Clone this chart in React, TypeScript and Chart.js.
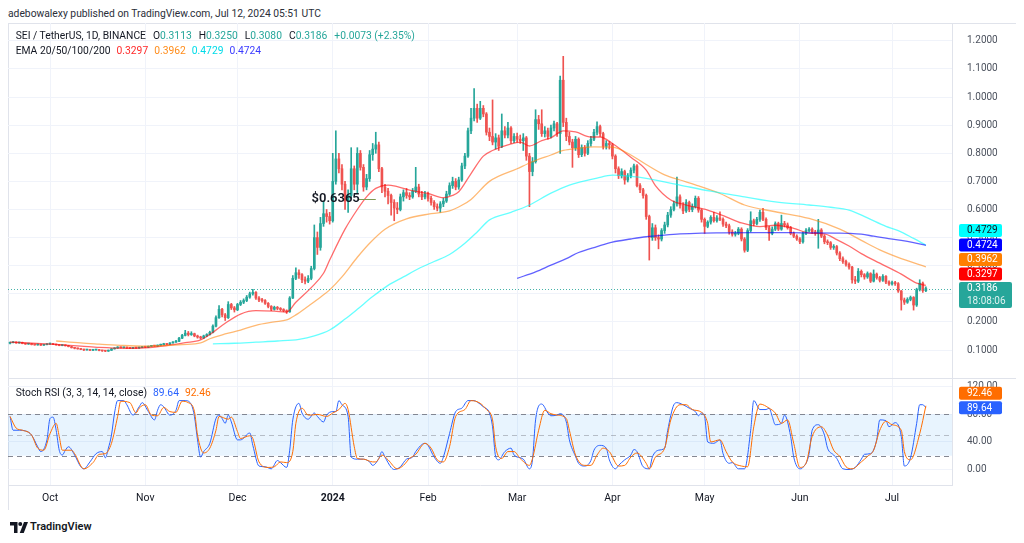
import React, { useEffect, useRef } from "react";
import { Chart, registerables } from "chart.js";

Chart.register(...registerables);

const FONT = "Roboto, 'Open Sans', Arial, sans-serif";
const UP = "#26a69a";
const DOWN = "#ef5350";
const TEXT = "#131722";
const AXIS_TEXT = "#4c525e";
const GRID = "#f0f3fa";
const BORDER = "#e0e3eb";

// day index 0 = 1 Oct 2023; first candle = 18 Sep 2023 (day -13)
const FIRST_DAY = -13;
const FIRST_OPEN = 0.124;
const CLOSES = [
  0.126, 0.128, 0.125, 0.127, 0.123, 0.121, 0.122, 0.119, 0.118, 0.120, 0.117, 0.119, 0.121,
  0.123, 0.120, 0.118, 0.116, 0.117, 0.115, 0.112, 0.108, 0.106, 0.104,
  0.102, 0.100, 0.101, 0.099, 0.100, 0.101, 0.098, 0.097, 0.096, 0.099,
  0.104, 0.107, 0.110, 0.108, 0.109, 0.107, 0.106, 0.108, 0.107, 0.109,
  0.111, 0.110, 0.113, 0.115, 0.114, 0.117, 0.119, 0.122, 0.120, 0.125,
  0.128, 0.131, 0.142, 0.152, 0.160, 0.155, 0.158, 0.150, 0.146, 0.143,
  0.150, 0.155, 0.163, 0.185, 0.215, 0.245, 0.225, 0.215, 0.262, 0.250,
  0.243, 0.262, 0.270, 0.276, 0.288, 0.300, 0.305, 0.285, 0.278, 0.276,
  0.266, 0.255, 0.245, 0.252, 0.248, 0.244, 0.240, 0.236, 0.285, 0.355,
  0.375, 0.368, 0.350, 0.345, 0.355, 0.390, 0.500, 0.465, 0.550, 0.585,
  0.575, 0.560, 0.700, 0.780, 0.745, 0.690, 0.630, 0.650, 0.745, 0.690,
  0.800, 0.750, 0.680, 0.710, 0.795, 0.815, 0.830, 0.745, 0.680, 0.665,
  0.650, 0.625, 0.605, 0.600, 0.645, 0.660, 0.650, 0.645, 0.665, 0.680,
  0.655, 0.645, 0.655, 0.640, 0.625, 0.610, 0.605, 0.620, 0.630, 0.655,
  0.685, 0.700, 0.680, 0.705, 0.755, 0.790, 0.880, 0.925, 0.960, 0.925,
  0.960, 0.940, 0.875, 0.860, 0.840, 0.855, 0.825, 0.880, 0.865, 0.890,
  0.845, 0.860, 0.850, 0.845, 0.855, 0.790, 0.735, 0.770, 0.920, 0.905,
  0.870, 0.880, 0.860, 0.890, 0.905, 0.870, 1.060, 0.910, 0.860, 0.840,
  0.820, 0.850, 0.795, 0.820, 0.800, 0.835, 0.850, 0.875, 0.895, 0.870,
  0.825, 0.835, 0.830, 0.790, 0.745, 0.720, 0.735, 0.705, 0.720, 0.740,
  0.755, 0.685, 0.670, 0.650, 0.575, 0.500, 0.535, 0.500, 0.495, 0.525,
  0.545, 0.580, 0.600, 0.620, 0.645, 0.615, 0.595, 0.625, 0.600, 0.610,
  0.640, 0.598, 0.565, 0.540, 0.555, 0.572, 0.560, 0.570, 0.565, 0.548,
  0.542, 0.520, 0.512, 0.515, 0.530, 0.495, 0.455, 0.525, 0.560, 0.550,
  0.565, 0.590, 0.565, 0.535, 0.515, 0.530, 0.550, 0.530, 0.550, 0.545,
  0.535, 0.515, 0.505, 0.495, 0.485, 0.515, 0.525, 0.530, 0.520, 0.515,
  0.527, 0.505, 0.485, 0.482, 0.465, 0.468, 0.445, 0.425, 0.415, 0.405,
  0.395, 0.350, 0.345, 0.380, 0.368, 0.360, 0.372, 0.345, 0.370, 0.358,
  0.348, 0.362, 0.342, 0.335, 0.340, 0.336, 0.310, 0.278, 0.270, 0.280,
  0.287, 0.260, 0.315, 0.338, 0.3113, 0.3186,
];
const HIGHS = [
  0.128, 0.130, 0.129, 0.128, 0.128, 0.124, 0.123, 0.123, 0.120, 0.121, 0.121, 0.120, 0.122,
  0.125, 0.124, 0.121, 0.119, 0.118, 0.118, 0.116, 0.113, 0.109, 0.107,
  0.105, 0.103, 0.102, 0.102, 0.101, 0.102, 0.102, 0.099, 0.098, 0.100,
  0.105, 0.108, 0.112, 0.111, 0.110, 0.110, 0.108, 0.109, 0.109, 0.110,
  0.112, 0.112, 0.114, 0.116, 0.116, 0.118, 0.121, 0.124, 0.123, 0.126,
  0.130, 0.134, 0.145, 0.156, 0.170, 0.166, 0.165, 0.160, 0.153, 0.149,
  0.153, 0.158, 0.167, 0.190, 0.222, 0.258, 0.248, 0.230, 0.272, 0.266,
  0.255, 0.266, 0.276, 0.282, 0.294, 0.306, 0.316, 0.308, 0.290, 0.284,
  0.279, 0.269, 0.258, 0.256, 0.255, 0.251, 0.247, 0.243, 0.290, 0.365,
  0.392, 0.385, 0.372, 0.360, 0.365, 0.398, 0.545, 0.520, 0.572, 0.630,
  0.600, 0.590, 0.800, 0.880, 0.800, 0.760, 0.700, 0.670, 0.820, 0.755,
  0.820, 0.810, 0.760, 0.725, 0.810, 0.835, 0.875, 0.840, 0.750, 0.690,
  0.675, 0.655, 0.635, 0.625, 0.655, 0.670, 0.675, 0.660, 0.675, 0.750,
  0.690, 0.665, 0.665, 0.662, 0.648, 0.632, 0.620, 0.628, 0.640, 0.665,
  0.695, 0.715, 0.710, 0.715, 0.765, 0.800, 0.890, 0.960, 1.030, 0.975,
  0.985, 0.970, 0.945, 0.890, 0.990, 0.870, 0.865, 0.940, 0.895, 0.910,
  0.895, 0.870, 0.872, 0.865, 0.870, 0.860, 0.800, 0.785, 0.955, 0.935,
  0.955, 0.895, 0.890, 0.900, 0.915, 0.910, 1.075, 1.145, 0.925, 0.875,
  0.850, 0.860, 0.855, 0.830, 0.828, 0.845, 0.860, 0.885, 0.912, 0.900,
  0.875, 0.845, 0.842, 0.835, 0.795, 0.752, 0.745, 0.740, 0.728, 0.748,
  0.762, 0.760, 0.692, 0.675, 0.655, 0.580, 0.550, 0.545, 0.510, 0.532,
  0.555, 0.590, 0.610, 0.630, 0.715, 0.652, 0.625, 0.635, 0.630, 0.620,
  0.648, 0.646, 0.602, 0.570, 0.560, 0.578, 0.590, 0.578, 0.592, 0.570,
  0.555, 0.548, 0.528, 0.522, 0.536, 0.535, 0.500, 0.532, 0.592, 0.566,
  0.572, 0.598, 0.604, 0.570, 0.540, 0.538, 0.556, 0.555, 0.580, 0.558,
  0.552, 0.540, 0.520, 0.510, 0.500, 0.520, 0.532, 0.536, 0.535, 0.526,
  0.565, 0.532, 0.510, 0.492, 0.486, 0.475, 0.472, 0.450, 0.432, 0.420,
  0.410, 0.398, 0.362, 0.390, 0.385, 0.372, 0.378, 0.375, 0.385, 0.374,
  0.362, 0.368, 0.365, 0.346, 0.345, 0.344, 0.340, 0.312, 0.285, 0.286,
  0.292, 0.290, 0.320, 0.350, 0.342, 0.325,
];
const LOWS = [
  0.122, 0.125, 0.124, 0.124, 0.122, 0.120, 0.120, 0.118, 0.117, 0.117, 0.116, 0.116, 0.118,
  0.120, 0.119, 0.117, 0.115, 0.115, 0.114, 0.111, 0.107, 0.104, 0.103,
  0.101, 0.098, 0.099, 0.098, 0.098, 0.099, 0.097, 0.095, 0.094, 0.095,
  0.098, 0.103, 0.106, 0.107, 0.107, 0.106, 0.105, 0.105, 0.106, 0.106,
  0.108, 0.109, 0.109, 0.112, 0.113, 0.113, 0.116, 0.118, 0.119, 0.119,
  0.124, 0.127, 0.130, 0.140, 0.150, 0.150, 0.152, 0.147, 0.142, 0.139,
  0.141, 0.148, 0.153, 0.161, 0.182, 0.212, 0.218, 0.205, 0.212, 0.244,
  0.235, 0.240, 0.258, 0.265, 0.272, 0.284, 0.295, 0.280, 0.272, 0.270,
  0.262, 0.250, 0.240, 0.242, 0.243, 0.240, 0.236, 0.230, 0.234, 0.283,
  0.350, 0.355, 0.340, 0.335, 0.340, 0.350, 0.385, 0.440, 0.455, 0.540,
  0.555, 0.548, 0.555, 0.690, 0.730, 0.670, 0.600, 0.590, 0.640, 0.670,
  0.660, 0.740, 0.665, 0.670, 0.700, 0.775, 0.800, 0.735, 0.660, 0.645,
  0.620, 0.580, 0.560, 0.585, 0.595, 0.630, 0.640, 0.635, 0.640, 0.660,
  0.645, 0.635, 0.638, 0.630, 0.615, 0.600, 0.595, 0.590, 0.610, 0.625,
  0.650, 0.675, 0.670, 0.672, 0.700, 0.745, 0.785, 0.870, 0.915, 0.910,
  0.920, 0.930, 0.865, 0.845, 0.830, 0.815, 0.810, 0.820, 0.855, 0.855,
  0.835, 0.838, 0.840, 0.835, 0.810, 0.775, 0.610, 0.720, 0.765, 0.885,
  0.860, 0.858, 0.850, 0.855, 0.880, 0.860, 0.800, 0.895, 0.845, 0.830,
  0.750, 0.810, 0.785, 0.788, 0.790, 0.795, 0.825, 0.845, 0.865, 0.860,
  0.815, 0.815, 0.815, 0.780, 0.730, 0.710, 0.712, 0.690, 0.698, 0.712,
  0.730, 0.680, 0.660, 0.640, 0.565, 0.420, 0.490, 0.490, 0.460, 0.488,
  0.515, 0.538, 0.572, 0.595, 0.612, 0.605, 0.585, 0.590, 0.592, 0.592,
  0.605, 0.590, 0.555, 0.515, 0.535, 0.548, 0.555, 0.555, 0.560, 0.540,
  0.535, 0.512, 0.505, 0.505, 0.510, 0.488, 0.448, 0.450, 0.520, 0.542,
  0.545, 0.558, 0.560, 0.528, 0.490, 0.510, 0.525, 0.525, 0.526, 0.538,
  0.530, 0.510, 0.500, 0.490, 0.478, 0.480, 0.510, 0.520, 0.515, 0.508,
  0.462, 0.500, 0.478, 0.475, 0.458, 0.458, 0.438, 0.418, 0.408, 0.398,
  0.388, 0.338, 0.336, 0.340, 0.360, 0.352, 0.355, 0.340, 0.342, 0.352,
  0.342, 0.344, 0.336, 0.330, 0.331, 0.330, 0.305, 0.242, 0.262, 0.266,
  0.275, 0.242, 0.255, 0.310, 0.305, 0.308,
];

// EMA lines: [day, value]
const EMA20 = [
  [-13, 0.128], [0, 0.121], [10, 0.114], [16, 0.109], [25, 0.106], [31, 0.108], [38, 0.116], [44, 0.126],
  [49, 0.136], [52, 0.155], [57, 0.195], [62, 0.228], [67, 0.24], [73, 0.238], [77, 0.235], [80, 0.27],
  [85, 0.322], [89, 0.373], [91, 0.42], [96, 0.53], [100, 0.6], [103, 0.645], [106, 0.675], [110, 0.687],
  [113, 0.681], [117, 0.669], [123, 0.657], [128, 0.642], [131, 0.65], [133, 0.663], [137, 0.728], [141, 0.79],
  [144, 0.81], [149, 0.83], [153, 0.84], [156, 0.826], [160, 0.845], [163, 0.855], [167, 0.88], [171, 0.876],
  [176, 0.858], [179, 0.858], [183, 0.835], [189, 0.786], [194, 0.74], [197, 0.685], [202, 0.634], [207, 0.616],
  [214, 0.598], [220, 0.574], [225, 0.552], [231, 0.539], [236, 0.544], [242, 0.533], [247, 0.516], [252, 0.513],
  [256, 0.493], [260, 0.47], [264, 0.443], [270, 0.409], [277, 0.37], [282, 0.338], [285, 0.3297],
];
const EMA50 = [
  [2, 0.132], [10, 0.125], [16, 0.121], [24, 0.116], [31, 0.114], [38, 0.116], [43, 0.119], [49, 0.125],
  [52, 0.14], [57, 0.157], [62, 0.171], [67, 0.188], [73, 0.2], [77, 0.207], [80, 0.225], [84, 0.256],
  [88, 0.288], [91, 0.314], [95, 0.36], [100, 0.43], [104, 0.48], [109, 0.53], [116, 0.567], [124, 0.585],
  [130, 0.595], [134, 0.615], [137, 0.636], [143, 0.7], [152, 0.745], [157, 0.77], [163, 0.794], [167, 0.81],
  [172, 0.818], [177, 0.823], [183, 0.822], [189, 0.794], [194, 0.76], [200, 0.723], [205, 0.705], [210, 0.688],
  [218, 0.657], [226, 0.616], [236, 0.592], [247, 0.568], [257, 0.53], [264, 0.49], [270, 0.456], [277, 0.425],
  [285, 0.3962],
];
const EMA100 = [
  [53, 0.122], [60, 0.124], [67, 0.128], [74, 0.132], [81, 0.138], [86, 0.15], [91, 0.171], [96, 0.21],
  [100, 0.245], [105, 0.29], [110, 0.33], [115, 0.36], [120, 0.39], [125, 0.415], [130, 0.44], [135, 0.48],
  [139, 0.52], [143, 0.563], [150, 0.59], [156, 0.616], [163, 0.658], [169, 0.687], [173, 0.699], [178, 0.712],
  [183, 0.722], [189, 0.718], [194, 0.711], [205, 0.687], [215, 0.665], [226, 0.645], [236, 0.627], [247, 0.616],
  [254, 0.608], [260, 0.598], [266, 0.57], [272, 0.54], [276, 0.525], [281, 0.497], [285, 0.4729],
];
const EMA200 = [
  [152, 0.355], [158, 0.378], [163, 0.402], [168, 0.425], [172, 0.447], [178, 0.468], [183, 0.484], [189, 0.495],
  [194, 0.503], [200, 0.509], [205, 0.513], [212, 0.516], [218, 0.517], [230, 0.518], [245, 0.517], [257, 0.516],
  [260, 0.515], [264, 0.512], [268, 0.505], [272, 0.498], [277, 0.49], [281, 0.482], [285, 0.4724],
];
const EMA_LAST = [0.3297, 0.3962, 0.4729, 0.4724];

const STOCH_K = [
  [-13, 77], [-12, 57], [-10, 57], [-8, 56], [-6, 50], [-4, 33], [-3, 26], [-1, 43], [0, 74], [1, 76], [2, 57],
  [3, 28], [4, 21], [5, 28], [6, 33], [8, 21], [10, 4], [11, 1], [13, 11], [15, 23], [17, 26], [18, 17], [19, 31],
  [20, 50], [21, 82], [22, 100], [24, 100], [25, 94], [27, 79], [29, 91], [30, 97], [32, 84], [34, 72], [35, 86],
  [36, 94], [37, 91], [39, 79], [41, 86], [42, 100], [44, 100], [46, 94], [47, 77], [48, 43], [49, 18], [50, 26],
  [52, 38], [54, 74], [55, 79], [56, 74], [57, 67], [58, 79], [59, 69], [61, 43], [62, 43], [65, 53], [66, 35],
  [68, 5], [70, 4], [72, 1], [74, 13], [75, 10], [77, 3], [78, 28], [79, 72], [81, 96], [82, 82], [84, 73], [86, 82],
  [87, 77], [89, 69], [90, 79], [92, 84], [93, 84], [94, 100], [95, 94], [97, 77], [98, 18], [100, 15], [102, 15],
  [104, 11], [105, 6], [107, 16], [108, 26], [109, 18], [111, 3], [112, 0], [114, 4], [116, 15], [118, 18], [119, 26],
  [122, 38], [123, 35], [125, 18], [127, 9], [128, 18], [130, 52], [132, 84], [134, 89], [136, 100], [138, 100],
  [139, 98], [141, 91], [143, 82], [144, 62], [145, 19], [146, 14], [148, 26], [150, 31], [151, 21], [154, 15],
  [156, 1], [157, 14], [158, 72], [160, 95], [162, 82], [163, 78], [165, 79], [166, 81], [168, 69], [169, 43],
  [171, 19], [172, 9], [174, 5], [176, 13], [177, 28], [179, 35], [181, 31], [182, 14], [184, 1], [185, 6], [187, 14],
  [189, 21], [190, 29], [191, 26], [193, 4], [195, 1], [196, 18], [198, 28], [200, 31], [201, 57], [203, 94],
  [204, 97], [206, 94], [208, 89], [210, 84], [211, 78], [212, 82], [213, 77], [214, 40], [216, 38], [218, 43],
  [219, 23], [221, 9], [222, 10], [224, 1], [226, 1], [228, 57], [229, 100], [231, 87], [233, 87], [234, 89],
  [235, 77], [236, 65], [238, 67], [239, 79], [241, 48], [242, 18], [244, 1], [245, 3], [247, 23], [248, 57],
  [250, 65], [252, 50], [253, 31], [255, 21], [256, 16], [258, 1], [260, 0], [262, 3], [264, 15], [265, 22],
  [267, 23], [269, 43], [270, 72], [272, 71], [273, 62], [275, 68], [277, 48], [278, 5], [280, 17], [282, 67],
  [283, 94], [284, 94], [285, 89.64],
];
const STOCH_D = [
  [-13, 77], [-11, 60], [-9, 57], [-6, 50], [-4, 31], [-2, 28], [0, 52], [2, 67], [3, 48], [4, 28], [7, 28], [8, 23],
  [11, 1], [14, 10], [16, 22], [18, 23], [20, 38], [22, 77], [23, 99], [26, 97], [28, 82], [29, 89], [31, 94],
  [33, 79], [35, 78], [37, 90], [39, 84], [41, 83], [43, 99], [45, 97], [47, 84], [48, 50], [50, 24], [52, 31],
  [54, 57], [55, 77], [58, 73], [59, 76], [61, 55], [62, 45], [65, 49], [66, 45], [68, 11], [71, 3], [73, 4],
  [75, 11], [77, 10], [79, 26], [80, 67], [82, 89], [84, 79], [85, 79], [87, 80], [90, 77], [92, 82], [94, 87],
  [96, 96], [97, 87], [99, 33], [100, 16], [102, 15], [105, 11], [106, 11], [108, 21], [110, 14], [113, 1], [115, 6],
  [117, 16], [119, 22], [122, 38], [124, 31], [126, 14], [128, 11], [130, 33], [132, 77], [135, 87], [137, 100],
  [140, 96], [142, 87], [144, 72], [145, 33], [147, 16], [149, 26], [151, 26], [153, 16], [156, 6], [157, 16],
  [159, 57], [161, 86], [163, 81], [165, 79], [168, 74], [169, 57], [171, 21], [174, 6], [176, 6], [178, 21],
  [180, 31], [182, 26], [185, 5], [187, 6], [189, 18], [191, 24], [194, 9], [195, 1], [197, 18], [200, 31],
  [202, 72], [205, 94], [207, 94], [209, 87], [212, 83], [214, 67], [215, 40], [218, 43], [220, 26], [222, 11],
  [225, 5], [227, 4], [229, 62], [231, 95], [234, 89], [236, 82], [238, 67], [240, 72], [242, 38], [244, 3],
  [246, 9], [248, 48], [251, 62], [253, 50], [255, 28], [257, 19], [259, 4], [261, 1], [264, 11], [266, 19],
  [268, 28], [270, 57], [272, 70], [274, 65], [277, 57], [278, 26], [280, 14], [283, 52], [285, 92.46],
];

const MONTH_DAYS = [0, 31, 61, 92, 123, 152, 183, 213, 244, 274];
const MONTH_LABELS = ["Oct", "Nov", "Dec", "2024", "Feb", "Mar", "Apr", "May", "Jun", "Jul"];
const YEAR_TICK = 92;
const PRICE_TICKS = [0.1, 0.2, 0.3, 0.4, 0.5, 0.6, 0.7, 0.8, 0.9, 1.0, 1.1, 1.2];
const STOCH_TICKS = [0, 40, 80, 120];
const STOCH_LEVELS = [80, 50, 20];
const NOTE_PRICE = 0.6365;
const NOTE_DAY = 100.8;
const NOTE_LINE_END = 106;
const COUNTDOWN = "18:08:06";
const LEGEND_OHLC = [
  ["O", "0.3113"],
  ["H", "0.3250"],
  ["L", "0.3080"],
  ["C", "0.3186"],
];
const LEGEND_CHANGE = "+0.0073 (+2.35%)";

const X_MIN = -13.67;
const X_MAX = 293.5;

const days = CLOSES.map((_, i) => FIRST_DAY + i);
const opens = CLOSES.map((_, i) => (i === 0 ? FIRST_OPEN : CLOSES[i - 1]));
const candleColors = CLOSES.map((c, i) => (c >= opens[i] ? UP : DOWN));
const LAST_CLOSE = CLOSES[CLOSES.length - 1];

const pts = (arr: number[][]) => arr.map(([x, y]) => ({ x, y }));

function roundRect(ctx: CanvasRenderingContext2D, x: number, y: number, w: number, h: number, r: number) {
  ctx.beginPath();
  ctx.moveTo(x + r, y);
  ctx.lineTo(x + w - r, y);
  ctx.quadraticCurveTo(x + w, y, x + w, y + r);
  ctx.lineTo(x + w, y + h - r);
  ctx.quadraticCurveTo(x + w, y + h, x + w - r, y + h);
  ctx.lineTo(x + r, y + h);
  ctx.quadraticCurveTo(x, y + h, x, y + h - r);
  ctx.lineTo(x, y + r);
  ctx.quadraticCurveTo(x, y, x + r, y);
  ctx.closePath();
}

function drawBox(ctx: CanvasRenderingContext2D, x: number, y: number, w: number, h: number, bg: string, lines: string[], fg: string) {
  ctx.fillStyle = bg;
  roundRect(ctx, x, y, w, h, 2);
  ctx.fill();
  ctx.font = `10px ${FONT}`;
  ctx.textAlign = "left";
  ctx.textBaseline = "middle";
  lines.forEach((t, i) => {
    ctx.fillStyle = i === 0 ? fg : "rgba(255,255,255,0.85)";
    ctx.fillText(t, x + 8, y + 6.8 + i * 12.5);
  });
}

const priceOverlay = {
  id: "priceOverlay",
  afterDatasetsDraw(chart: any) {
    const { ctx, chartArea: a, scales } = chart;
    const x = scales.x;
    const y = scales.y;
    ctx.save();
    ctx.beginPath();
    ctx.rect(a.left, a.top, a.right - a.left, a.bottom - a.top);
    ctx.clip();
    const py = Math.round(y.getPixelForValue(LAST_CLOSE)) + 0.5;
    ctx.strokeStyle = "rgba(38,166,154,0.85)";
    ctx.lineWidth = 1;
    ctx.setLineDash([1, 2]);
    ctx.beginPath();
    ctx.moveTo(a.left, py);
    ctx.lineTo(a.right, py);
    ctx.stroke();
    ctx.setLineDash([]);
    const nx = x.getPixelForValue(NOTE_DAY);
    const ny = y.getPixelForValue(NOTE_PRICE);
    ctx.strokeStyle = "#7f9a52";
    ctx.beginPath();
    ctx.moveTo(nx - 2, Math.round(ny) + 0.5);
    ctx.lineTo(x.getPixelForValue(NOTE_LINE_END), Math.round(ny) + 0.5);
    ctx.stroke();
    ctx.font = `600 13px ${FONT}`;
    ctx.fillStyle = TEXT;
    ctx.textAlign = "right";
    ctx.textBaseline = "middle";
    ctx.fillText("$" + NOTE_PRICE.toFixed(4), nx, ny);
    ctx.restore();
  },
  afterDraw(chart: any) {
    const { ctx, chartArea: a, scales } = chart;
    const y = scales.y;
    const bx = a.right + 7;
    ctx.save();
    const tealTop = y.getPixelForValue(LAST_CLOSE) - 6.5;
    drawBox(ctx, bx, tealTop, 53, 26, UP, [LAST_CLOSE.toFixed(4), COUNTDOWN], "#ffffff");
    const stack = [
      { v: EMA_LAST[0], bg: "#ff0000", fg: "#ffffff" },
      { v: EMA_LAST[1], bg: "#ff7f00", fg: "#ffffff" },
      { v: EMA_LAST[3], bg: "#0000ff", fg: "#ffffff" },
      { v: EMA_LAST[2], bg: "#00ffff", fg: TEXT },
    ];
    let top = tealTop;
    stack.forEach((b) => {
      top -= 14.5;
      drawBox(ctx, bx, top, 43, 13, b.bg, [b.v.toFixed(4)], b.fg);
    });
    ctx.restore();
  },
};

const stochOverlay = {
  id: "stochOverlay",
  beforeDatasetsDraw(chart: any) {
    const { ctx, chartArea: a, scales } = chart;
    const y = scales.y;
    ctx.save();
    const y80 = y.getPixelForValue(STOCH_LEVELS[0]);
    const y20 = y.getPixelForValue(STOCH_LEVELS[2]);
    ctx.fillStyle = "rgba(33,150,243,0.1)";
    ctx.fillRect(a.left, y80, a.right - a.left, y20 - y80);
    ctx.lineWidth = 1;
    ctx.setLineDash([5, 4]);
    STOCH_LEVELS.forEach((lv, i) => {
      const py = Math.round(y.getPixelForValue(lv)) + 0.5;
      ctx.strokeStyle = i === 1 ? "rgba(120,123,134,0.45)" : "rgba(120,123,134,0.9)";
      ctx.beginPath();
      ctx.moveTo(a.left, py);
      ctx.lineTo(a.right, py);
      ctx.stroke();
    });
    ctx.restore();
  },
  afterDraw(chart: any) {
    const { ctx, chartArea: a, scales } = chart;
    const y = scales.y;
    const bx = a.right + 7;
    const kLast = STOCH_K[STOCH_K.length - 1][1];
    const dLast = STOCH_D[STOCH_D.length - 1][1];
    ctx.save();
    const kTop = y.getPixelForValue(kLast) - 6.5;
    drawBox(ctx, bx, kTop, 43, 13, "#2962ff", [kLast.toFixed(2)], "#ffffff");
    drawBox(ctx, bx, kTop - 14.5, 43, 13, "#ff6d00", [dLast.toFixed(2)], "#ffffff");
    ctx.restore();
  },
};

const monthTicks = (s: any) => {
  s.ticks = MONTH_DAYS.map((v) => ({ value: v }));
};
const fitRight = (s: any) => {
  s.width = 64;
  s.paddingTop = 0;
  s.paddingBottom = 0;
};

export default function App() {
  const priceRef = useRef<HTMLCanvasElement>(null);
  const stochRef = useRef<HTMLCanvasElement>(null);

  useEffect(() => {
    const lineDs = (data: number[][], color: string, width = 1.3) => ({
      type: "line" as const,
      data: pts(data),
      borderColor: color,
      borderWidth: width,
      pointRadius: 0,
      cubicInterpolationMode: "monotone" as const,
      order: 0,
    });
    const price = new Chart(priceRef.current as HTMLCanvasElement, {
      type: "bar",
      data: {
        datasets: [
          lineDs(EMA200, "rgba(0,0,255,0.62)"),
          lineDs(EMA100, "rgba(0,255,255,0.6)"),
          lineDs(EMA50, "rgba(255,127,0,0.55)"),
          lineDs(EMA20, "rgba(255,0,0,0.58)"),
          {
            type: "bar",
            data: days.map((d, i) => ({ x: d, y: [LOWS[i], HIGHS[i]] })) as any,
            backgroundColor: candleColors,
            barThickness: 1,
            grouped: false,
            order: 3,
          },
          {
            type: "bar",
            data: days.map((d, i) => ({ x: d, y: [opens[i], CLOSES[i]] })) as any,
            backgroundColor: candleColors,
            barThickness: 2,
            minBarLength: 1,
            grouped: false,
            order: 2,
          },
        ] as any,
      },
      options: {
        responsive: false,
        animation: false,
        events: [],
        layout: { padding: 0, autoPadding: false },
        plugins: { legend: { display: false }, tooltip: { enabled: false } },
        scales: {
          x: {
            type: "linear",
            min: X_MIN,
            max: X_MAX,
            offset: false,
            afterBuildTicks: monthTicks,
            ticks: { display: false },
            grid: { color: GRID, drawTicks: false, offset: false },
            border: { display: false },
            afterFit: (s: any) => {
              s.height = 0;
              s.paddingLeft = 0;
              s.paddingRight = 0;
            },
          },
          y: {
            position: "right",
            min: 0.00036,
            max: 1.2637,
            afterBuildTicks: (s: any) => {
              s.ticks = PRICE_TICKS.map((v) => ({ value: v }));
            },
            ticks: {
              callback: (v: any) => Number(v).toFixed(4),
              color: AXIS_TEXT,
              font: { family: FONT, size: 10 },
              padding: 15,
            },
            grid: { color: GRID, drawTicks: false },
            border: { color: BORDER },
            afterFit: fitRight,
          },
        } as any,
      },
      plugins: [priceOverlay],
    });

    const stoch = new Chart(stochRef.current as HTMLCanvasElement, {
      type: "line",
      data: {
        datasets: [
          { data: pts(STOCH_K), borderColor: "#2962ff", borderWidth: 1, pointRadius: 0, cubicInterpolationMode: "monotone", order: 1 },
          { data: pts(STOCH_D), borderColor: "#ff6d00", borderWidth: 1, pointRadius: 0, cubicInterpolationMode: "monotone", order: 0 },
        ] as any,
      },
      options: {
        responsive: false,
        animation: false,
        events: [],
        layout: { padding: 0, autoPadding: false },
        plugins: { legend: { display: false }, tooltip: { enabled: false } },
        scales: {
          x: {
            type: "linear",
            min: X_MIN,
            max: X_MAX,
            offset: false,
            afterBuildTicks: monthTicks,
            ticks: {
              autoSkip: false,
              maxRotation: 0,
              padding: 7,
              color: TEXT,
              callback: (_v: any, i: number) => MONTH_LABELS[i],
              font: (ctx: any) => ({
                family: FONT,
                size: 10.5,
                weight: ctx.tick && ctx.tick.value === YEAR_TICK ? "bold" : "normal",
              }),
            },
            grid: { color: GRID, drawTicks: false, offset: false },
            border: { color: BORDER },
            afterFit: (s: any) => {
              s.height = 25;
              s.paddingLeft = 0;
              s.paddingRight = 0;
            },
          },
          y: {
            position: "right",
            min: -22.5,
            max: 131.35,
            afterBuildTicks: (s: any) => {
              s.ticks = STOCH_TICKS.map((v) => ({ value: v }));
            },
            ticks: {
              callback: (v: any) => Number(v).toFixed(2),
              color: AXIS_TEXT,
              font: { family: FONT, size: 10 },
              padding: 15,
            },
            grid: { color: GRID, drawTicks: false },
            border: { color: BORDER },
            afterFit: fitRight,
          },
        } as any,
      },
      plugins: [stochOverlay],
    });

    return () => {
      price.destroy();
      stoch.destroy();
    };
  }, []);

  const abs = (left: number, top: number, extra: any = {}) => ({
    position: "absolute" as const,
    left,
    top,
    whiteSpace: "nowrap" as const,
    lineHeight: "12px",
    ...extra,
  });
  const teal = { color: UP };

  return (
    <div
      style={{
        position: "fixed",
        left: 0,
        top: 0,
        width: 1024,
        height: 543,
        background: "#ffffff",
        fontFamily: FONT,
        fontSize: 10.3,
        color: TEXT,
        overflow: "hidden",
      }}
    >
      <div style={abs(8, 8, { color: "#2a2e39" })}>
        adebowalexy published on TradingView.com, Jul 12, 2024 05:51 UTC
      </div>
      <div style={{ position: "absolute", left: 8, top: 23, width: 1008, height: 1, background: BORDER }} />
      <div style={{ position: "absolute", left: 8, top: 23, width: 1, height: 487, background: BORDER }} />
      <canvas ref={priceRef} width={1008} height={355} style={{ position: "absolute", left: 8, top: 23 }} />
      <div style={{ position: "absolute", left: 8, top: 378, width: 1008, height: 1, background: BORDER }} />
      <canvas ref={stochRef} width={1008} height={131} style={{ position: "absolute", left: 8, top: 379 }} />

      <div style={abs(15.7, 30)}>
        SEI / TetherUS, 1D, BINANCE
        {LEGEND_OHLC.map(([k, v]) => (
          <span key={k} style={{ marginLeft: 7 }}>
            {k}
            <span style={teal}>{v}</span>
          </span>
        ))}
        <span style={{ marginLeft: 7, ...teal }}>{LEGEND_CHANGE}</span>
      </div>

      <div style={abs(15.7, 45)}>
        EMA 20/50/100/200
        <span style={{ marginLeft: 6, color: "#ff2a2a" }}>{EMA_LAST[0].toFixed(4)}</span>
        <span style={{ marginLeft: 6, color: "#ff8c1a" }}>{EMA_LAST[1].toFixed(4)}</span>
        <span style={{ marginLeft: 6, color: "#00dbe8" }}>{EMA_LAST[2].toFixed(4)}</span>
        <span style={{ marginLeft: 6, color: "#3b3bff" }}>{EMA_LAST[3].toFixed(4)}</span>
      </div>

      <div style={abs(15.7, 387)}>
        Stoch RSI (3, 3, 14, 14, close)
        <span style={{ marginLeft: 6, color: "#2962ff" }}>{STOCH_K[STOCH_K.length - 1][1].toFixed(2)}</span>
        <span style={{ marginLeft: 6, color: "#ff6d00" }}>{STOCH_D[STOCH_D.length - 1][1].toFixed(2)}</span>
      </div>

      <svg width="18" height="11" viewBox="0 0 36 22" style={{ position: "absolute", left: 10, top: 522 }}>
        <path d="M0 0h15v22H8V7H0z" fill="#131722" />
        <circle cx="20.5" cy="4" r="4" fill="#131722" />
        <path d="M28 0h8l-8.5 22h-8z" fill="#131722" />
      </svg>
      <div style={abs(30, 521, { fontSize: 11, fontWeight: 600, color: "#131722" })}>TradingView</div>
    </div>
  );
}
